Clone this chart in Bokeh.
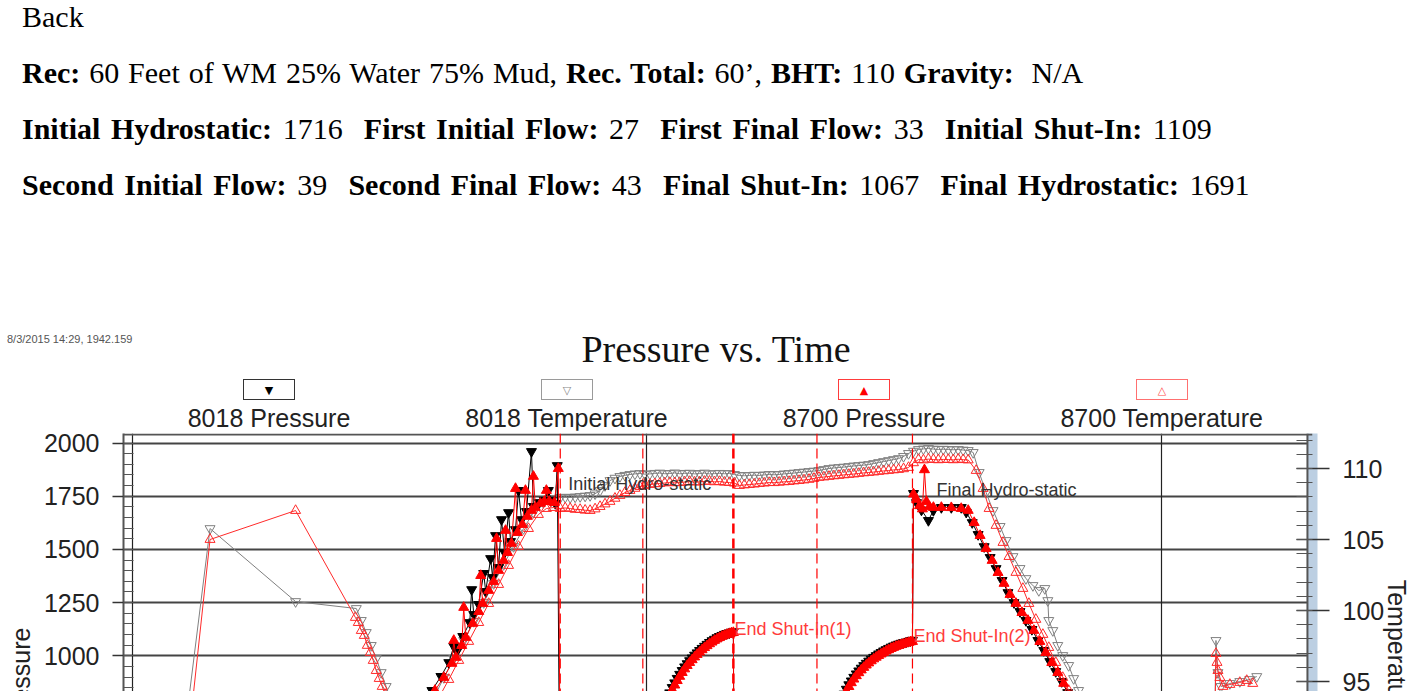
from bokeh.plotting import figure
from bokeh.models import Range1d, LinearAxis, FixedTicker, Grid, Span, Label, Div
from bokeh.layouts import column
from bokeh.embed import file_html
from bokeh.resources import INLINE

# ---------------- data (time in minutes after the first vertical grid line) -------------
P_TICKS = [750, 1000, 1250, 1500, 1750, 2000]
P_MINOR = list(range(700, 2101, 50))
T_TICKS = [95, 100, 105, 110]
T_MINOR = list(range(90, 114))
X_GRID = [0, 60, 120]

plateau_time = [49.90, 50.48, 51.06, 51.64, 52.22, 52.80, 53.38, 53.96, 54.54, 55.12,
                55.70, 56.28, 56.86, 57.44, 58.03, 58.61, 59.19, 59.77, 60.35, 60.93,
                61.51, 62.09, 62.67, 63.25, 63.83, 64.41, 64.99, 65.57, 66.15, 66.73,
                67.31, 67.89, 68.47, 69.05, 69.63, 70.21, 70.79, 71.37, 71.95, 72.53,
                73.11, 73.69, 74.27, 74.85, 75.43, 76.01, 76.59, 77.17, 77.75, 78.33,
                78.91, 79.49, 80.07, 80.65, 81.24, 81.82, 82.40, 82.98, 83.56, 84.14,
                84.72, 85.30, 85.88, 86.46, 87.04, 87.62, 88.20, 88.78, 89.36, 89.94,
                90.52, 91.10, 91.68, 92.26, 92.84, 93.42, 94.00, 94.58, 95.16, 95.74,
                96.32, 96.90, 97.48]
si1_time = [59.77, 59.94, 60.11, 60.35, 60.58, 60.81, 61.04, 61.28, 61.51, 61.80,
            62.09, 62.38, 62.67, 62.96, 63.25, 63.54, 63.83, 64.12, 64.41, 64.70,
            64.99, 65.28, 65.57, 65.86, 66.15, 66.44, 66.73, 67.02, 67.31, 67.60,
            67.89, 68.18, 68.47, 68.76, 69.05, 69.34, 69.63, 69.86, 70.09]
si2_time = [80.07, 80.25, 80.42, 80.66, 80.89, 81.12, 81.35, 81.59, 81.82, 82.11,
            82.40, 82.69, 82.98, 83.27, 83.56, 83.85, 84.14, 84.43, 84.72, 85.01,
            85.30, 85.59, 85.88, 86.17, 86.46, 86.75, 87.04, 87.33, 87.62, 87.91,
            88.20, 88.49, 88.78, 89.07, 89.36, 89.65, 89.94, 90.23, 90.52, 90.75, 90.98]

# 8018 Pressure (psi)
p8018_time = ([5.6, 19.5, 22.98, 28.78, 31.10,
               34.00, 34.93, 35.98, 36.90, 37.48, 37.83, 38.53, 39.34, 39.57, 39.81,
               40.39, 40.97, 41.20, 41.78, 42.01, 42.36, 42.71, 43.05, 43.40, 43.87,
               44.10, 44.68, 45.03, 45.38, 45.96, 46.54, 46.77, 47.46, 48.04, 48.51,
               48.86, 49.32, 49.55,
               49.90, 51.99, 54.31, 56.63, 59.53]
              + si1_time + [70.21, 72.88, 75.20, 77.52, 79.84] + si2_time +
              [91.10, 91.45, 92.03, 92.84, 93.42, 94.35, 95.51, 96.67, 97.25,
               97.95, 98.64, 99.34, 100.04, 100.73, 101.43, 102.12, 102.82, 103.52, 104.21,
               104.91, 105.61, 106.30, 107.00, 107.69, 108.39, 109.09, 109.78,
               112.34, 116.98, 121.62, 135.55])
p8018_psi = ([13, 14, 15, 160, 410,
              766, 837, 903, 968, 1044, 1020, 1091, 1156, 1311, 1194,
              1241, 1387, 1302, 1457, 1368, 1565, 1415, 1640, 1485, 1673,
              1537, 1593, 1777, 1640, 1678, 1960, 1702, 1720, 1730, 1777,
              1730, 1716, 1894,
              29, 30, 32, 34, 35]
             + [160, 255, 345, 425, 495, 552, 603, 650, 692, 731,
                767, 798, 826, 851, 873, 894, 913, 931, 948, 963,
                977, 990, 1003, 1014, 1025, 1035, 1045, 1054, 1063, 1071,
                1078, 1085, 1091, 1096, 1101, 1105, 1108, 1111, 1113]
             + [41, 42, 43, 44, 45]
             + [172, 262, 345, 420, 485, 542, 593, 640, 682, 723,
                761, 792, 820, 843, 864, 882, 899, 915, 929, 942,
                954, 965, 975, 984, 993, 1001, 1009, 1016, 1023, 1029,
                1035, 1041, 1046, 1051, 1055, 1059, 1062, 1065, 1068, 1071, 1073]
             + [1763, 1720, 1685, 1636, 1683, 1697, 1697, 1697, 1675,
                1626, 1570, 1513, 1462, 1410, 1354, 1297, 1250, 1208, 1166,
                1124, 1072, 1025, 973, 926, 879, 827, 771,
                560, 190, 18, 14])

# 8700 Pressure (psi)
p8700_time = ([5.6, 19.5, 22.98, 28.78, 31.10,
               34.35, 35.28, 36.32, 37.25, 37.48, 37.72, 38.41, 38.64, 38.88, 39.69,
               40.39, 40.62, 40.85, 41.55, 42.13, 42.47, 42.71, 43.29, 43.52, 43.75,
               44.21, 44.68, 44.91, 45.49, 45.84, 46.07, 46.54, 46.77, 47.00, 47.58,
               48.04, 48.28, 48.62, 49.21, 49.67,
               49.95, 51.99, 54.31, 56.63, 59.53]
              + si1_time + [70.21, 72.88, 75.20, 77.52, 79.84] + si2_time +
              [91.10, 91.45, 91.80, 92.14, 92.38, 92.61, 92.96, 93.42, 94.35, 95.51, 96.67, 97.48,
               98.18, 98.87, 99.57, 100.27, 100.96, 101.66, 102.36, 103.05, 103.75, 104.45,
               105.14, 105.84, 106.53, 107.23, 107.93, 108.62, 109.32, 110.02,
               112.34, 116.98, 121.62, 135.55])
p8700_psi = ([12, 13, 14, 150, 400,
              766, 837, 898, 964, 1072, 992, 1048, 1227, 1086, 1152,
              1208, 1377, 1246, 1307, 1349, 1551, 1401, 1448, 1589, 1485,
              1528, 1786, 1579, 1617, 1777, 1655, 1683, 1843, 1697, 1716,
              1725, 1777, 1725, 1720, 1880,
              27, 28, 29, 31, 33]
             + [150, 245, 330, 410, 480, 540, 590, 637, 680, 720,
                755, 786, 815, 840, 862, 883, 903, 921, 938, 954,
                968, 981, 994, 1006, 1017, 1028, 1038, 1047, 1056, 1064,
                1072, 1079, 1085, 1091, 1096, 1100, 1104, 1107, 1109]
             + [39, 40, 41, 42, 43]
             + [160, 250, 330, 405, 470, 528, 580, 627, 670, 712,
                750, 782, 810, 834, 855, 873, 890, 906, 920, 933,
                945, 956, 966, 976, 985, 993, 1001, 1008, 1015, 1022,
                1028, 1034, 1039, 1044, 1048, 1052, 1056, 1059, 1062, 1065, 1067]
             + [1760, 1735, 1705, 1690, 1874, 1725, 1700, 1697, 1697, 1696, 1692, 1683,
                1626, 1565, 1504, 1448, 1391, 1340, 1288, 1246, 1203, 1166,
                1119, 1067, 1015, 968, 921, 870, 813, 752,
                560, 200, 20, 14])

# 8018 Temperature (deg F)
t8018_time = ([5.57, 9.05, 19.03, 26.11, 26.69, 27.27, 27.85, 28.43, 29.01, 29.59,
               30.17, 32.26, 34.30,
               35.28, 36.32, 37.48, 38.64, 39.81, 40.97, 42.13, 43.29, 44.45, 45.61,
               46.77, 47.93, 48.86]
              + plateau_time +
              [98.06, 98.76, 99.57, 100.38, 101.20, 101.89, 102.70, 103.52, 104.21, 105.03,
               105.72, 106.42, 106.77, 106.88, 107.35, 107.93, 108.51, 109.20, 109.78, 110.36,
               111.17,
               112.34, 118.14, 123.94, 126.15,
               126.38, 126.61, 126.96, 128.00, 129.16, 130.32, 131.14])
t8018_degF = [88.9, 105.77, 100.63, 100.14, 99.30, 98.45, 97.54, 96.62, 95.63, 94.65,
              93.66, 91.2, 92.3,
              94.01, 95.28, 96.62, 97.89, 99.23, 100.56, 101.90, 103.24, 104.51, 105.77,
              106.90, 107.61, 107.89,
              107.96, 107.98, 107.96, 108.00, 108.03, 108.06, 108.10, 108.22, 108.45, 108.80,
              109.15, 109.32, 109.44, 109.52, 109.58, 109.62, 109.65, 109.60, 109.62, 109.66,
              109.68, 109.63, 109.65, 109.69, 109.63, 109.66, 109.67, 109.62, 109.65, 109.68,
              109.62, 109.64, 109.66, 109.63, 109.65, 109.58, 109.51, 109.49, 109.51, 109.53,
              109.51, 109.55, 109.58, 109.56, 109.58, 109.62, 109.65, 109.68, 109.72, 109.75,
              109.79, 109.82, 109.86, 109.93, 110.00, 110.04, 110.07, 110.10, 110.14, 110.18,
              110.21, 110.24, 110.28, 110.35, 110.42, 110.49, 110.56, 110.63, 110.70, 110.85,
              111.06, 111.22, 111.34, 111.38, 111.41, 111.37, 111.34, 111.36, 111.34, 111.32,
              111.34, 111.30, 111.27,
              111.13, 109.72, 108.31, 107.04, 105.92, 104.93, 103.80, 102.96, 102.25, 101.76,
              101.41, 101.55, 100.70, 99.30, 98.59, 97.54, 96.83, 96.13, 95.21, 94.37,
              93.31,
              92.5, 90.5, 89.0, 88.5,
              97.89, 95.63, 94.65, 94.86, 95.00, 95.14, 95.35]

# 8700 Temperature (deg F)
t8700_time = ([5.57, 9.05, 19.03, 26.00, 26.34, 26.69, 27.04, 27.39, 27.74, 28.08,
               28.43, 28.78, 29.13, 29.48, 29.94, 32.26, 34.58,
               35.74, 36.90, 38.06, 39.22, 40.39, 41.55, 42.71, 43.87, 45.03, 46.19,
               47.35, 48.28, 49.09]
              + plateau_time +
              [98.41, 99.22, 99.92, 100.73, 101.54, 102.24, 103.05, 103.86, 104.56, 105.37,
               106.19, 106.88, 107.69, 108.51, 109.20, 110.02,
               112.34, 118.14, 123.94, 126.15,
               126.38, 126.50, 126.61, 126.84, 127.19, 128.00, 129.16, 129.97, 130.67])
t8700_degF = [85.5, 105.0, 107.04, 99.51, 99.15, 98.59, 98.24, 97.54, 97.04, 96.48,
              95.77, 95.21, 94.65, 94.08, 93.31, 91.0, 92.5,
              93.87, 95.14, 96.48, 97.82, 99.15, 100.49, 101.83, 103.17, 104.51, 105.77,
              106.76, 107.18, 107.25,
              107.18, 107.22, 107.18, 107.12, 107.11, 107.06, 107.04, 107.15, 107.32, 107.50,
              107.68, 107.90, 108.10, 108.30, 108.45, 108.60, 108.73, 108.80, 108.87, 108.92,
              108.94, 108.98, 109.01, 108.99, 109.01, 109.05, 109.08, 109.04, 109.06, 109.09,
              109.10, 109.06, 109.08, 109.03, 109.01, 108.97, 108.80, 108.84, 108.87, 108.90,
              108.94, 108.97, 109.01, 109.00, 109.03, 109.06, 109.08, 109.12, 109.15, 109.19,
              109.23, 109.30, 109.37, 109.40, 109.44, 109.48, 109.51, 109.55, 109.58, 109.61,
              109.65, 109.69, 109.72, 109.75, 109.79, 109.83, 109.86, 109.90, 109.93, 109.98,
              110.07, 110.40, 110.63, 110.60, 110.66, 110.63, 110.61, 110.64, 110.63, 110.61,
              110.65, 110.62, 110.60,
              109.86, 108.59, 107.18, 105.99, 104.79, 103.80, 102.68, 101.55, 100.49, 99.37,
              98.31, 97.39, 96.34, 95.28, 94.37, 93.31,
              92.0, 90.0, 88.5, 88.0,
              96.97, 96.34, 95.77, 95.28, 94.65, 94.79, 94.93, 95.07, 94.86]

# test events
event_time = [49.90, 59.53, 70.09, 79.84, 90.98]
event_width = [1.2, 1.2, 2.5, 1.2, 1.2]
notes = [("Initial Hydro-static", 50.83, 1805, "#333333"),
         ("Final Hydro-static", 93.77, 1777, "#333333"),
         ("End Shut-In(1)", 70.21, 1128, "#ff3b3b"),
         ("End Shut-In(2)", 91.10, 1095, "#ff3b3b")]

series_names = ["8018 Pressure", "8018 Temperature", "8700 Pressure", "8700 Temperature"]
series_symbols = ["\u25BC", "\u25BD", "\u25B2", "\u25B3"]
symbol_colors = ["#000000", "#888888", "#ff0000", "#ff4d4d"]
box_colors = ["#333333", "#9a9a9a", "#ff3b3b", "#ff7070"]

# ---------------- header (document text, chart title, legend) ----------------
def line_div(top, inner, ws):
    return ('<div style="position:absolute;left:22px;top:%.1fpx;line-height:20px;'
            'white-space:pre;word-spacing:%.1fpx;">%s</div>' % (top, ws, inner))

parts = ['<div style="position:relative;width:1414px;height:430px;'
         "font-family:'Liberation Serif','Times New Roman',serif;font-size:30px;color:#000;\">"]
parts.append(line_div(7.4, "Back", 0))
parts.append(line_div(62.9, "<b>Rec:</b> 60 Feet of WM 25% Water 75% Mud, <b>Rec. Total:</b> 60\u2019, "
                            "<b>BHT:</b> 110 <b>Gravity:</b>  N/A", 1.4))
parts.append(line_div(118.9, "<b>Initial Hydrostatic:</b> 1716  <b>First Initial Flow:</b> 27  "
                             "<b>First Final Flow:</b> 33  <b>Initial Shut-In:</b> 1109", 3.1))
parts.append(line_div(174.9, "<b>Second Initial Flow:</b> 39  <b>Second Final Flow:</b> 43  "
                             "<b>Final Shut-In:</b> 1067  <b>Final Hydrostatic:</b> 1691", 3.1))
parts.append('<div style="position:absolute;left:7px;top:333.7px;white-space:pre;'
             "font-family:'Liberation Sans',Arial,sans-serif;font-size:11px;line-height:11px;"
             'color:#555;">8/3/2015 14:29, 1942.159</div>')
parts.append('<div style="position:absolute;left:416px;top:330.2px;width:600px;text-align:center;'
             "font-family:'Liberation Serif',serif;font-size:38px;line-height:38px;color:#111;\">"
             'Pressure vs. Time</div>')
box_cx = [270, 568, 865, 1163]
lab_cx = [269, 566.5, 864, 1161.7]
for bx, lx, name, sym, sc, bc in zip(box_cx, lab_cx, series_names, series_symbols,
                                     symbol_colors, box_colors):
    parts.append('<div style="position:absolute;left:%dpx;top:379px;width:52px;height:21px;'
                 'border:1px solid %s;background:#fff;text-align:center;'
                 "font-family:'DejaVu Sans',sans-serif;font-size:11px;line-height:21px;"
                 'color:%s;">%s</div>' % (bx - 27, bc, sc, sym))
    parts.append('<div style="position:absolute;left:%.1fpx;top:405.8px;width:300px;'
                 "text-align:center;font-family:'Liberation Sans',Arial,sans-serif;"
                 'font-size:25px;line-height:25px;color:#222;white-space:pre;">%s</div>'
                 % (lx - 150, name))
parts.append('</div>')
header = Div(text="".join(parts), width=1414, height=430, margin=0,
             styles={"overflow": "visible"})

# ---------------- figure ----------------
p = figure(width=1414, height=261, x_range=Range1d(-1.044, 137.64),
           y_range=Range1d(832.05, 2044.65), x_axis_location=None,
           title=None, output_backend="svg", toolbar_location=None,
           min_border_left=123, min_border_right=96, min_border_top=3, min_border_bottom=0,
           background_fill_color="white", border_fill_color="white",
           outline_line_color=None)
p.extra_y_ranges = {"temp": Range1d(94.296, 112.465)}

NB = "\u00a0"
ya = p.yaxis[0]
ya.ticker = FixedTicker(ticks=P_TICKS, minor_ticks=P_MINOR)
ya.major_tick_in = 0
ya.major_tick_out = 11
ya.minor_tick_in = 10
ya.minor_tick_out = 0
ya.major_label_standoff = 13
ya.major_label_text_font = "Liberation Sans"
ya.major_label_text_font_size = "25px"
ya.major_label_text_color = "#222222"
ya.axis_line_color = "#555555"
ya.axis_line_width = 2
ya.major_tick_line_color = "#333333"
ya.major_tick_line_width = 1.5
ya.minor_tick_line_color = "#555555"
ya.minor_tick_line_width = 1.2
ya.axis_label = NB * 4 + "Pressure"
ya.axis_label_standoff = 6
ya.axis_label_text_font = "Liberation Sans"
ya.axis_label_text_font_size = "25px"
ya.axis_label_text_font_style = "normal"
ya.axis_label_text_color = "#222222"

ta = LinearAxis(y_range_name="temp", ticker=FixedTicker(ticks=T_TICKS, minor_ticks=T_MINOR),
                major_tick_in=16, major_tick_out=17, minor_tick_in=16, minor_tick_out=0,
                major_label_standoff=13, major_label_text_font="Liberation Sans",
                major_label_text_font_size="25px", major_label_text_color="#222222",
                axis_line_color="#bccfe2", axis_line_width=10,
                major_tick_line_color="#333333", major_tick_line_width=1.5,
                minor_tick_line_color="#555555", minor_tick_line_width=1.2,
                axis_label="Temperature" + NB * 12, axis_label_standoff=-4,
                axis_label_text_font="Liberation Sans", axis_label_text_font_size="25px",
                axis_label_text_font_style="normal", axis_label_text_color="#222222")
p.add_layout(ta, "right")

if "axis_label_align" in LinearAxis.properties():
    ya.axis_label_align = "start"
    ta.axis_label_align = "start"

p.ygrid.ticker = FixedTicker(ticks=P_TICKS)
p.ygrid.grid_line_color = "#444444"
p.ygrid.grid_line_width = 1.8
p.xgrid.visible = False
p.add_layout(Grid(dimension=0, ticker=FixedTicker(ticks=X_GRID),
                  grid_line_color="#222222", grid_line_width=1.2))

# plot box borders (top and right edges of the chart area)
p.add_layout(Span(location=2040, dimension="width", line_color="#555555", line_width=2))
p.add_layout(Span(location=137.05, dimension="height", line_color="#555555", line_width=2))

# data
p.line(t8018_time, t8018_degF, y_range_name="temp", line_color="#808080", line_width=1)
p.scatter(t8018_time, t8018_degF, y_range_name="temp", marker="inverted_triangle", size=10,
          line_color="#808080", fill_color=None, line_width=1)
p.line(p8018_time, p8018_psi, line_color="black", line_width=1)
p.scatter(p8018_time, p8018_psi, marker="inverted_triangle", size=10,
          line_color="black", fill_color="black")
p.line(t8700_time, t8700_degF, y_range_name="temp", line_color="#ff2a2a", line_width=1)
p.scatter(t8700_time, t8700_degF, y_range_name="temp", marker="triangle", size=10,
          line_color="#ff2a2a", fill_color=None, line_width=1)
p.line(p8700_time, p8700_psi, line_color="red", line_width=1)
p.scatter(p8700_time, p8700_psi, marker="triangle", size=10,
          line_color="red", fill_color="red")

for t, w in zip(event_time, event_width):
    p.add_layout(Span(location=t, dimension="height", line_color="red",
                      line_width=w, line_dash="10 5"))

for txt, t, v, c in notes:
    p.add_layout(Label(x=t, y=v, text=txt, text_font="Liberation Sans",
                       text_font_size="18px", text_color=c,
                       text_align="left", text_baseline="alphabetic"))

layout = column(header, p, spacing=0, margin=0)
open("out.html", "w").write(file_html(layout, INLINE))
